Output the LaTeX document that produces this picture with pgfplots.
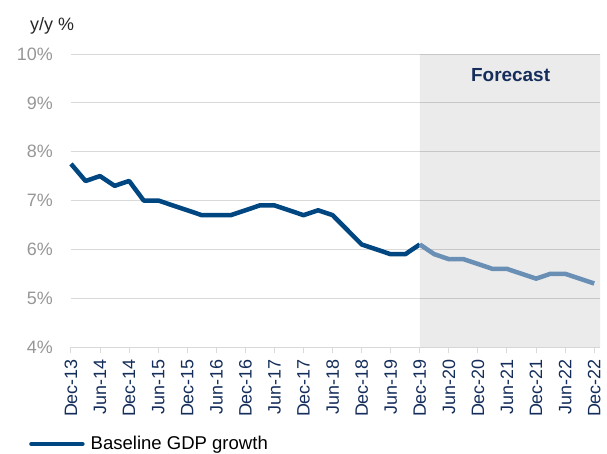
\documentclass[border=0pt]{standalone}
\usepackage{pgfplots}
\pgfplotsset{compat=1.18}
\usepackage{fontspec}
\setmainfont{Liberation Sans}
\definecolor{navy}{RGB}{0,70,128}
\definecolor{fcst}{RGB}{106,143,180}
\definecolor{gridc}{RGB}{217,217,217}
\definecolor{ytxt}{RGB}{150,150,150}
\definecolor{xtxt}{RGB}{20,45,90}
\pgfplotstableread{
x y
0 7.75
1 7.4
2 7.5
3 7.3
4 7.4
5 7.0
6 7.0
7 6.9
8 6.8
9 6.7
10 6.7
11 6.7
12 6.8
13 6.9
14 6.9
15 6.8
16 6.7
17 6.8
18 6.7
19 6.4
20 6.1
21 6.0
22 5.9
23 5.9
24 6.1
}\hist
\pgfplotstableread{
x y
24 6.1
25 5.9
26 5.8
27 5.8
28 5.7
29 5.6
30 5.6
31 5.5
32 5.4
33 5.5
34 5.5
35 5.4
36 5.3
}\fcast
\begin{document}
\fontsize{18}{21}\selectfont
\begin{tikzpicture}
\path[use as bounding box] (-71bp,-107bp) rectangle (536bp,347bp);
\begin{axis}[
  at={(0,0)}, anchor=south west,
  scale only axis, width=529bp, height=293bp,
  xmin=0, xmax=36.4, ymin=4, ymax=10,
  xtick={0,2,...,36},
  xticklabels={Dec-13,Jun-14,Dec-14,Jun-15,Dec-15,Jun-16,Dec-16,Jun-17,Dec-17,Jun-18,Dec-18,Jun-19,Dec-19,Jun-20,Dec-20,Jun-21,Dec-21,Jun-22,Dec-22},
  xticklabel style={rotate=90, anchor=east, font=\fontsize{18}{21}\selectfont, text=xtxt},
  ytick={4,5,...,10},
  yticklabel={\pgfmathprintnumber{\tick}\%},
  yticklabel style={font=\fontsize{18}{21}\selectfont, text=ytxt, xshift=-6bp},
  /pgf/number format/assume math mode=true,
  ymajorgrids, grid style={gridc, line width=1bp},
  axis x line*=bottom, axis y line*=left,
  x axis line style={gridc, line width=1bp, -},
  y axis line style={draw=none},
  xtick style={gridc, line width=1bp},
  tick align=outside, major tick length=6bp,
  ytick style={draw=none},
  clip=false,
  legend style={at={(0,0)}, anchor=west, xshift=-42bp, yshift=-97bp, draw=none, fill=none, font=\fontsize{18.6}{21}\selectfont, inner sep=0pt},
  legend image code/.code={\draw[navy, line width=4.5bp, line cap=round] (0bp,0bp) -- (51bp,0bp);},
  legend cell align=left,
]
\addplot[fill=black, fill opacity=0.078, draw=none, forget plot] coordinates {(24,4) (36.4,4) (36.4,10) (24,10) (24,4)};
\addplot[navy, line width=4.5bp, line join=round] table[x=x,y=y] {\hist};
\addlegendentry{\hspace{4bp}Baseline GDP growth}
\addplot[fcst, line width=4.5bp, line join=round, forget plot] table[x=x,y=y] {\fcast};
\node[font=\bfseries\fontsize{19}{22}\selectfont, text=xtxt] at (axis cs:30.25,9.57) {Forecast};
\end{axis}
\node[anchor=base west, font=\fontsize{18}{21}\selectfont, text=black!85] at (-47bp,316bp) {y/y \%};
\end{tikzpicture}
\end{document}
